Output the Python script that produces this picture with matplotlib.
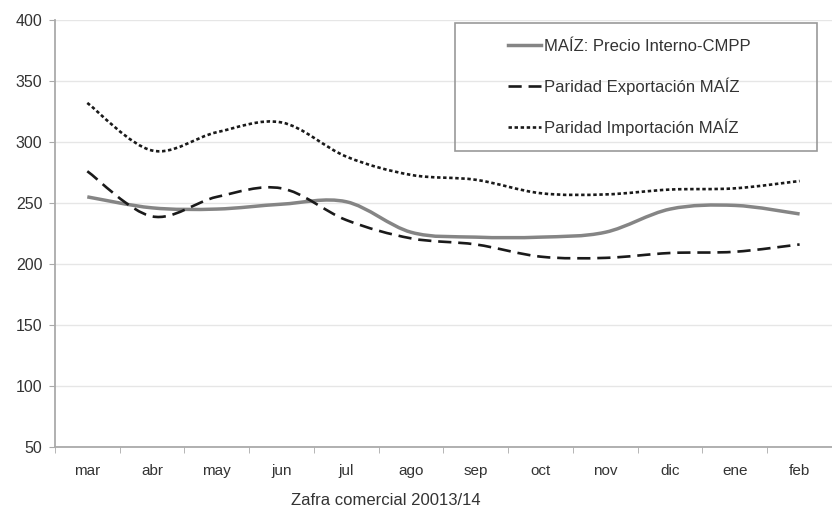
import numpy as np
import matplotlib.pyplot as plt
from matplotlib.path import Path
from matplotlib.patches import PathPatch, Rectangle
from matplotlib.lines import Line2D

plt.rcParams['font.family'] = ['Liberation Sans', 'DejaVu Sans']

# meses de la zafra
meses = ['mar', 'abr', 'may', 'jun', 'jul', 'ago', 'sep', 'oct', 'nov', 'dic', 'ene', 'feb']

# precios
precio_interno = [255, 246, 245, 249, 251, 226, 222, 222, 226, 245, 248, 241]
paridad_export = [276, 239, 255, 262, 236, 221, 216, 206, 205, 209, 210, 216]
paridad_import = [332, 293, 308, 316, 288, 273, 269, 258, 257, 261, 262, 268]

nombres = ['MAÍZ: Precio Interno-CMPP', 'Paridad Exportación MAÍZ', 'Paridad Importación MAÍZ']


# curva suavizada tipo excel (bezier)
def curva_suave(xs, ys):
    p = np.column_stack([xs, ys]).astype(float)
    n = len(p)
    verts = [p[0]]
    codes = [Path.MOVETO]
    for i in range(n - 1):
        p0 = p[i - 1] if i > 0 else p[i]
        p3 = p[i + 2] if i + 2 < n else p[i + 1]
        c1 = p[i] + (p[i + 1] - p0) / 6
        c2 = p[i + 1] - (p3 - p[i]) / 6
        verts += [c1, c2, p[i + 1]]
        codes += [Path.CURVE4] * 3
    return Path(verts, codes)


W, H = 832, 512
fig = plt.figure(figsize=(W / 100, H / 100), dpi=100)
ax = fig.add_axes([0.066, 0.127, 0.934, 0.834])

x = np.arange(len(meses))
estilos = [
    dict(color='#858585', lw=2.5, ls='-'),
    dict(color='#1a1a1a', lw=1.9, ls=(0, (5, 2.6))),
    dict(color='#1a1a1a', lw=1.9, ls=(0, (1.3, 1.0))),
]
for serie, st in zip([precio_interno, paridad_export, paridad_import], estilos):
    ax.add_patch(PathPatch(curva_suave(x, serie), fill=False, edgecolor=st['color'],
                           lw=st['lw'], linestyle=st['ls'], capstyle='butt'))

ax.set_xlim(-0.5, 11.5)
ax.set_ylim(50, 400)
ax.set_yticks(range(50, 401, 50))
ax.set_xticks(x)
ax.set_xticklabels(meses)
ax.set_xticks(np.arange(-0.5, 12, 1), minor=True)
ax.tick_params(axis='x', which='major', length=0, pad=12, labelsize=11, labelcolor='#333333')
ax.tick_params(axis='x', which='minor', length=4, color='#aaaaaa', direction='out')
ax.tick_params(axis='y', length=4, color='#aaaaaa', labelsize=11.5, labelcolor='#333333', pad=5)
ax.grid(axis='y', color='#e6e6e6', lw=1)
ax.set_axisbelow(True)
for s in ['top', 'right']:
    ax.spines[s].set_visible(False)
for s in ['left', 'bottom']:
    ax.spines[s].set_color('#aaaaaa')
    ax.spines[s].set_linewidth(1.3)

# leyenda sin marco + recuadro aparte
handles = [Line2D([], [], color=st['color'], lw=st['lw'], linestyle=st['ls']) for st in estilos]
leg = fig.legend(handles, nombres, loc='upper left', bbox_to_anchor=(508 / W, 1 - 39 / H),
                 bbox_transform=fig.transFigure, fontsize=12, frameon=False,
                 handlelength=2.0, handletextpad=0.15, labelspacing=1.42,
                 borderpad=0, borderaxespad=0)
for t in leg.get_texts():
    t.set_color('#333333')
fig.patches.append(Rectangle((455 / W, 1 - 151 / H), (817 - 455) / W, (151 - 23) / H,
                             transform=fig.transFigure, fill=False, edgecolor='#999999', lw=1.2))

fig.text(0.464, 0.022, 'Zafra comercial 20013/14', ha='center', va='center',
         fontsize=12, color='#333333')
fig.text(0.15, 1.012, 'U$S/t', ha='center', va='center', fontsize=11, color='#f39200')

fig.savefig('out.png', dpi=100)
